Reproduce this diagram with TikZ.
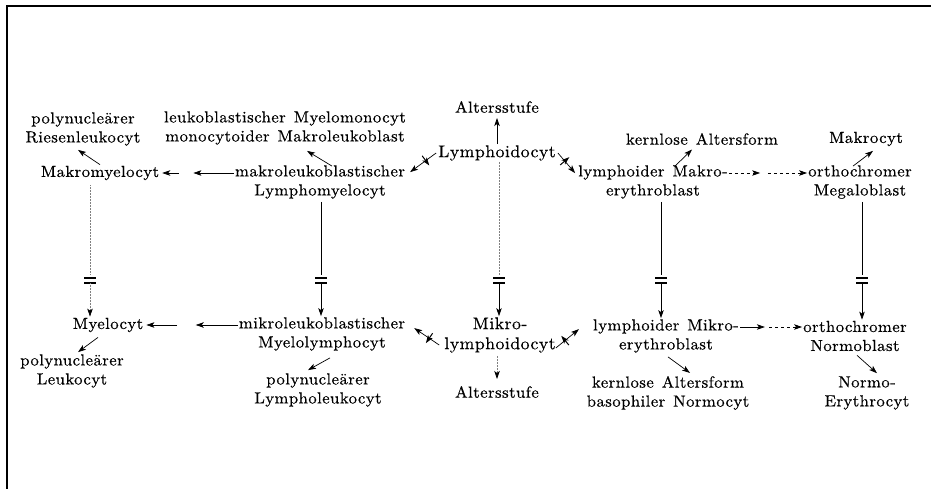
\documentclass[tikz,border=0pt]{standalone}
\usepackage{fontspec}
\setmainfont{lmroman10-regular.otf}[FakeStretch=1.04,LetterSpace=3,FakeBold=0.5]
\usetikzlibrary{arrows.meta,decorations.markings,calc}
\newcommand\lblfont{\fontsize{16}{19}\selectfont\spaceskip=8pt plus 1pt\relax}
\newcommand\bigfont{\fontsize{17}{20}\selectfont\relax}
\tikzset{
  lbl/.style={font=\lblfont, align=center, inner sep=1pt},
  biglbl/.style={font=\bigfont, align=center, inner sep=1pt},
  arr/.style={-{Stealth[length=8pt,width=5.5pt,inset=2pt,color=black]}, line width=0.7pt},
  dotline/.style={line width=0.5pt, gray, densely dotted},
  solidline/.style={line width=0.6pt},
  crossed/.style={postaction={decorate}, decoration={markings, mark=at position 0.4 with {\draw[line width=1pt,black,solid] (0,-6pt) -- (0,6pt);}}},
  barmark/.style={line width=1.2pt},
}
\begin{document}
\begin{tikzpicture}[x=1pt,y=-1pt]
\useasboundingbox (0,0) rectangle (931,489);
\draw[line width=1.5pt] (7,489) -- (7,6) -- (931,6);

% upper labels
\node[lbl] (pr)  at (83,129)  {polynucleärer\\Riesenleukocyt};
\node[lbl] (lm)  at (285,128) {leukoblastischer Myelomonocyt\\monocytoider Makroleukoblast};
\node[lbl] (at1) at (497,107) {Altersstufe};
\node[biglbl] (ly)  at (497,153) {Lymphoidocyt};
\node[lbl] (ka1) at (702,139) {kernlose Altersform};
\node[lbl] (mc)  at (866,139) {Makrocyt};
\node[lbl] (mm)  at (100,173) {Makromyelocyt};
\node[lbl] (ml)  at (320,182) {makroleukoblastischer\\Lymphomyelocyt};
\node[lbl] (lma) at (653,182) {lymphoider Makro-\\erythroblast};
\node[lbl] (om)  at (860,182) {orthochromer\\Megaloblast};
% lower labels
\node[lbl] (myc) at (108,325) {Myelocyt};
\node[lbl] (mk)  at (322,334) {mikroleukoblastischer\\Myelolymphocyt};
\node[biglbl] (mly) at (500,335) {Mikro-\\lymphoidocyt};
\node[lbl] (lmi) at (666,336) {lymphoider Mikro-\\erythroblast};
\node[lbl] (on)  at (855,336) {orthochromer\\Normoblast};
\node[lbl] (pl)  at (72,371)  {polynucleärer\\Leukocyt};
\node[lbl] (pll) at (318,390) {polynucleärer\\Lympholeukocyt};
\node[lbl] (at2) at (497,392) {Altersstufe};
\node[lbl] (ka2) at (668,393) {kernlose Altersform\\basophiler Normocyt};
\node[lbl] (ne)  at (867,393) {Normo-\\Erythrocyt};

% bar coordinates of the vertical connectors
\coordinate (a1) at (90,278);  \coordinate (b1) at (90,283);
\coordinate (a2) at (321,278); \coordinate (b2) at (321,283);
\coordinate (a3) at (499,278); \coordinate (b3) at (499,283);
\coordinate (a4) at (661,278); \coordinate (b4) at (661,283);
\coordinate (a5) at (862,278); \coordinate (b5) at (862,283);

\foreach \c in {a1,b1,a2,b2,a3,b3,a4,b4,a5,b5}
  \draw[barmark] ([xshift=-6pt]\c) -- ([xshift=6pt]\c);

\draw[dotline] ([yshift=-4pt]a1 |- mm.south) -- ([yshift=4pt]a1);
\draw[dotline,arr] (b1) -- (b1 |- myc.north);
\draw[solidline] ([yshift=-2pt]a2 |- ml.south) -- ([yshift=3pt]a2);
\draw[solidline,arr] (b2) -- (b2 |- mk.north);
\draw[dotline] (a3 |- ly.south) -- ([yshift=3pt]a3);
\draw[solidline,arr] (b3) -- (b3 |- mly.north);
\draw[solidline] ([yshift=-2pt]a4 |- lma.south) -- ([yshift=3pt]a4);
\draw[solidline,arr] (b4) -- (b4 |- lmi.north);
\draw[solidline] ([yshift=-2pt]a5 |- om.south) -- ([yshift=3pt]a5);
\draw[solidline,arr] (b5) -- (b5 |- on.north);

% upper small arrows
\draw[arr] (mm.north) -- ([xshift=-5pt,yshift=-3pt]pr.south);
\draw[arr] ([xshift=12pt,yshift=-2pt]ml.north) -- ([xshift=22pt,yshift=-5pt]lm.south);
\draw[arr] (ly.north) -- ([yshift=-4pt]at1.south);
\draw[arr] ([xshift=22pt,yshift=-2pt]lma.north) -- ([xshift=-10pt,yshift=-3.5pt]ka1.south);
\draw[arr] ([xshift=-7pt,yshift=-2pt]om.north) -- ([xshift=7pt,yshift=-3.5pt]mc.south);

% crossed arrows
\draw[arr,crossed] ([xshift=-1pt]ly.west) -- ([xshift=4pt,yshift=-8pt]ml.north east);
\draw[arr,crossed] ([xshift=1pt]ly.east) -- ([xshift=-2pt,yshift=-9pt]lma.north west);
\draw[arr,crossed] ([xshift=-4pt,yshift=-10pt]mly.west) -- ([xshift=8pt,yshift=-12pt]mk.north east);
\draw[arr,crossed] ([xshift=-1pt,yshift=-13pt]mly.east) -- ([xshift=-13pt,yshift=-11pt]lmi.north west);

% horizontal double arrows
\coordinate (p1) at (ml.west |- mm.east);
\draw[arr] (p1) -- ($(mm.east)!0.45!(p1)$);
\draw[arr] ($(mm.east)!0.25!(p1)$) -- ([xshift=2pt]mm.east);
\coordinate (p2) at (mk.west |- myc.east);
\draw[arr] (p2) -- ($(myc.east)!0.55!(p2)$);
\draw[arr] ($(myc.east)!0.35!(p2)$) -- ([xshift=2pt]myc.east);
\coordinate (u1) at ([yshift=9pt]lma.east);
\coordinate (u2) at ([yshift=9pt]om.west);
\draw[arr,dashed] (u1) -- ($(u1)!0.4!(u2)$);
\draw[arr,dashed] ($(u1)!0.5!(u2)$) -- (u2);
\coordinate (l1) at ([yshift=9pt]lmi.east);
\coordinate (l2) at ([yshift=9pt]on.west);
\draw[arr] (l1) -- ($(l1)!0.4!(l2)$);
\draw[arr,dashed] ($(l1)!0.47!(l2)$) -- (l2);

% lower small arrows
\draw[arr] ([xshift=-10pt,yshift=-4pt]myc.south) -- ([xshift=6pt,yshift=1pt]pl.north);
\draw[arr] ([xshift=8pt,yshift=-6pt]mk.south) -- ([xshift=-10pt,yshift=2pt]pll.north);
\draw[dotline,arr] ([xshift=-3pt,yshift=-2pt]mly.south) -- ([yshift=6pt]at2.north);
\draw[arr] ([xshift=2pt,yshift=-3pt]lmi.south) -- ([xshift=22pt,yshift=2pt]ka2.north);
\draw[arr] ([xshift=2pt,yshift=-3pt]on.south) -- ([xshift=10pt,yshift=2pt]ne.north);
\end{tikzpicture}
\end{document}
